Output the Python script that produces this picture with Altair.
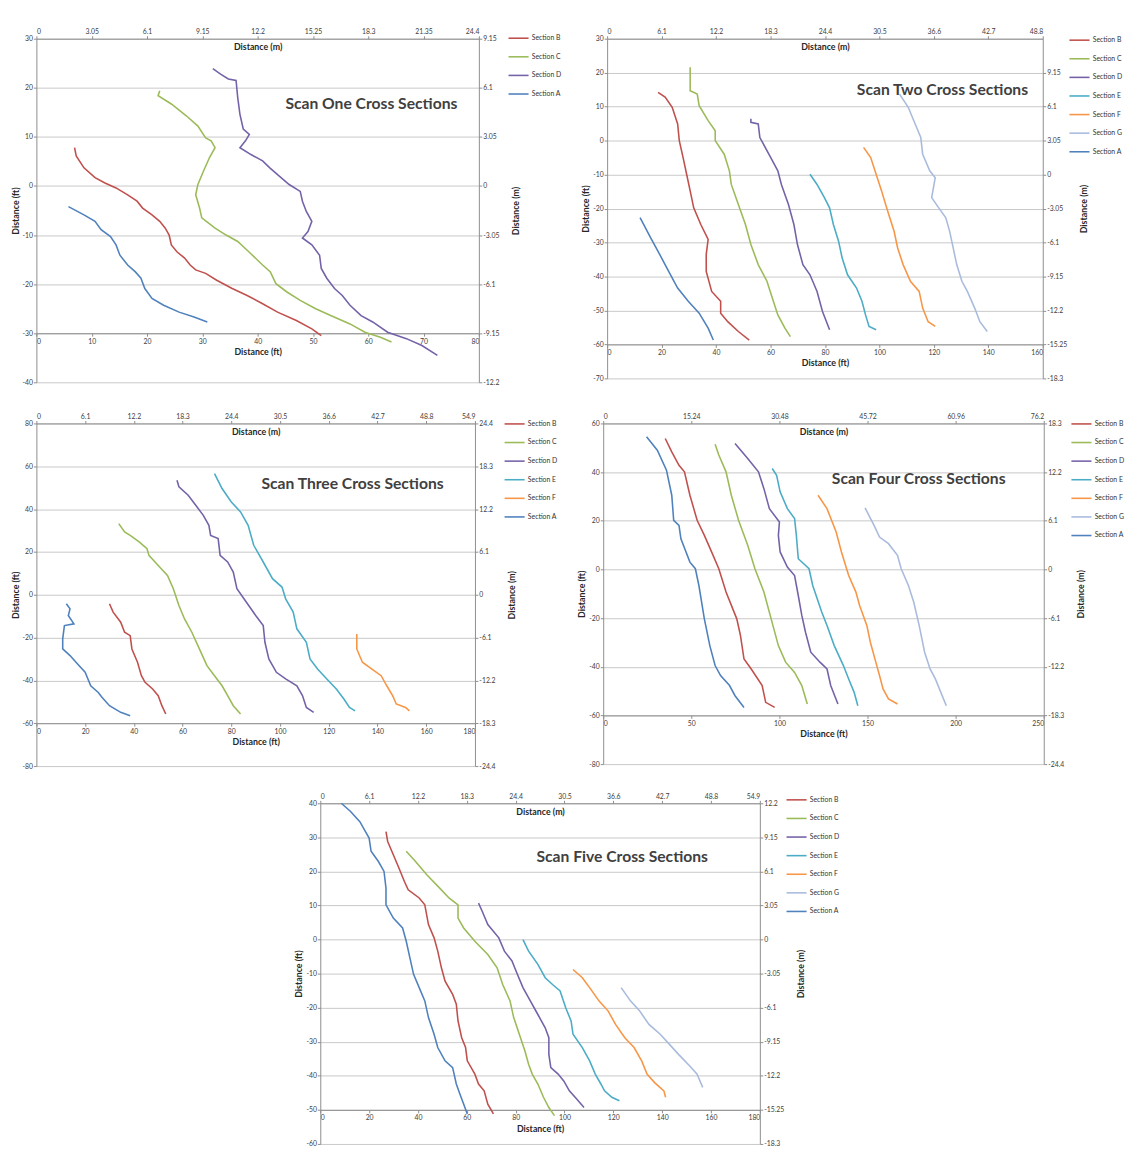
import altair as alt
import pandas as pd

FONT = "Lato"
COLORS = {"A": "#4F81BD", "B": "#C0504D", "C": "#9BBB59", "D": "#7462A8",
          "E": "#4BACC6", "F": "#F79646", "G": "#A9BBDD"}

# ---------------- Scan One ----------------
P1_B_X = [6.9, 7.2, 8.6, 10.6, 12.4, 14.4, 16.5, 18.2, 19.2, 20.9, 22.3, 23.3, 24.0, 24.4, 25.4, 26.8, 27.8, 28.8, 30.6, 32.6, 35.4, 38.1, 40.9, 43.6, 47.0, 49.8, 51.5]
P1_B_Y = [7.8, 6.1, 3.7, 1.7, 0.6, -0.4, -1.8, -3.1, -4.5, -5.9, -7.2, -8.6, -10.0, -12.0, -13.4, -14.7, -16.1, -17.1, -17.8, -19.2, -20.9, -22.3, -24.0, -25.7, -27.4, -29.1, -30.5]
P1_C_X = [22.3, 22.0, 24.4, 27.1, 29.2, 30.6, 31.6, 32.3, 31.3, 30.2, 29.2, 28.8, 29.5, 29.9, 32.3, 34.3, 36.4, 38.4, 40.9, 42.3, 43.3, 45.3, 47.7, 50.5, 53.2, 56.7, 59.4, 62.2, 64.2]
P1_C_Y = [19.4, 18.4, 16.7, 14.3, 12.2, 9.8, 9.2, 7.8, 5.8, 3.0, 0.3, -1.8, -4.5, -6.5, -8.6, -10.0, -11.3, -13.4, -16.1, -17.5, -19.9, -21.6, -23.3, -25.0, -26.4, -28.1, -29.8, -30.8, -31.8]
P1_D_X = [31.9, 33.3, 34.7, 36.1, 36.4, 36.8, 37.4, 38.5, 37.8, 36.8, 38.8, 40.9, 42.2, 43.6, 45.7, 47.7, 48.1, 48.8, 49.8, 49.1, 48.1, 49.8, 51.2, 51.5, 52.5, 53.9, 55.3, 56.7, 58.7, 60.8, 63.5, 66.9, 69.7, 72.5]
P1_D_Y = [23.9, 22.8, 21.8, 21.5, 18.0, 14.6, 11.6, 10.5, 9.2, 7.8, 6.4, 5.1, 3.7, 2.3, 0.3, -1.1, -3.1, -5.2, -7.2, -9.3, -10.6, -12.0, -14.1, -16.8, -18.8, -20.9, -22.3, -24.3, -26.4, -27.7, -29.8, -31.1, -32.5, -34.5]
P1_A_X = [5.8, 8.6, 10.6, 11.7, 13.4, 14.4, 15.1, 16.5, 17.9, 18.9, 19.6, 20.9, 23.0, 25.8, 28.5, 30.9]
P1_A_Y = [-4.2, -5.9, -7.2, -8.9, -10.3, -12.0, -14.1, -16.1, -17.5, -18.8, -20.9, -22.9, -24.3, -25.7, -26.7, -27.7]

# ---------------- Scan Two ----------------
P2_B_X = [18.7, 21.3, 23.9, 25.9, 26.5, 27.9, 29.2, 30.5, 31.8, 34.4, 37.1, 36.4, 36.4, 38.4, 41.7, 41.7, 44.3, 48.2, 52.2]
P2_B_Y = [14.2, 12.8, 9.8, 4.9, 0.0, -5.0, -9.9, -14.8, -19.8, -24.7, -29.1, -33.5, -38.5, -44.4, -47.3, -50.8, -53.3, -56.2, -58.7]
P2_C_X = [30.5, 30.5, 33.1, 33.8, 37.1, 39.7, 39.7, 43.0, 44.9, 45.6, 48.2, 50.8, 52.8, 55.5, 58.7, 60.7, 62.7, 65.3, 67.3]
P2_C_Y = [21.6, 14.7, 13.7, 10.3, 5.9, 2.9, 0.0, -4.0, -8.9, -12.9, -18.8, -24.7, -30.6, -36.5, -41.4, -46.4, -51.3, -55.2, -57.7]
P2_D_X = [52.8, 52.8, 55.5, 56.1, 59.4, 62.7, 64.0, 66.6, 68.6, 69.9, 71.9, 74.5, 77.1, 79.1, 81.7]
P2_D_Y = [6.4, 5.4, 4.9, 0.9, -4.0, -8.9, -12.9, -18.8, -24.7, -30.6, -36.5, -39.5, -44.4, -50.3, -55.7]
P2_E_X = [74.5, 77.1, 79.8, 81.7, 83.1, 85.0, 86.3, 88.3, 91.6, 93.6, 94.9, 96.2, 98.8]
P2_E_Y = [-9.9, -12.9, -16.8, -19.8, -24.7, -29.6, -34.5, -39.5, -43.4, -47.3, -51.3, -54.7, -55.7]
P2_F_X = [94.2, 96.8, 98.8, 100.8, 102.1, 103.4, 105.4, 106.7, 108.7, 111.4, 114.6, 115.9, 117.9, 120.5]
P2_F_Y = [-2.0, -5.0, -9.9, -14.8, -18.3, -21.7, -26.7, -31.6, -36.5, -41.4, -44.4, -49.3, -53.3, -54.7]
P2_G_X = [107.4, 110.6, 112.6, 115.2, 115.9, 118.5, 120.5, 119.2, 121.8, 124.4, 125.8, 127.1, 128.4, 130.3, 132.3, 135.0, 136.9, 139.6]
P2_G_Y = [13.7, 9.8, 5.9, 0.9, -4.0, -8.9, -10.9, -16.8, -19.8, -22.7, -26.7, -31.6, -36.5, -41.4, -44.4, -49.3, -53.3, -56.2]
P2_A_X = [12.1, 16.0, 19.3, 22.6, 25.9, 29.8, 33.8, 37.1, 39.0]
P2_A_Y = [-22.7, -28.6, -33.5, -38.5, -43.4, -47.3, -50.8, -55.2, -58.7]

# ---------------- Scan Three ----------------
P3_B_X = [30.0, 31.5, 34.6, 36.2, 38.5, 39.2, 41.5, 43.1, 44.6, 47.7, 50.0, 51.5, 53.1]
P3_B_Y = [-4.2, -8.1, -12.8, -17.5, -19.1, -25.3, -31.5, -37.8, -40.9, -44.0, -47.1, -51.8, -55.7]
P3_C_X = [33.8, 36.2, 38.5, 42.3, 45.4, 46.2, 50.0, 53.8, 56.2, 58.5, 60.8, 63.8, 66.9, 70.0, 73.1, 76.2, 78.5, 80.8, 83.8]
P3_C_Y = [33.2, 29.3, 27.7, 24.6, 21.5, 18.4, 13.7, 9.0, 2.8, -5.0, -11.3, -17.5, -25.3, -33.1, -37.8, -42.5, -47.1, -51.8, -55.7]
P3_D_X = [57.7, 58.5, 62.3, 65.4, 68.5, 70.8, 71.5, 74.6, 75.4, 78.5, 80.8, 82.3, 86.2, 90.0, 93.1, 93.8, 95.4, 98.5, 102.3, 106.9, 109.2, 110.8, 113.8]
P3_D_Y = [53.5, 50.4, 46.5, 41.8, 37.1, 32.4, 27.7, 26.2, 18.4, 15.3, 10.6, 2.8, -3.5, -9.7, -14.4, -22.2, -30.0, -36.2, -39.3, -42.5, -47.1, -52.6, -54.9]
P3_E_X = [73.1, 76.2, 80.0, 83.8, 86.9, 89.2, 93.1, 96.9, 100.8, 102.3, 105.4, 106.9, 110.8, 112.3, 115.4, 119.2, 123.1, 126.2, 128.5, 130.8]
P3_E_Y = [56.6, 49.6, 43.3, 38.7, 32.4, 23.1, 15.3, 7.5, 3.6, -1.9, -8.1, -15.9, -22.2, -30.0, -34.7, -39.3, -44.0, -48.7, -52.6, -54.2]
P3_F_X = [131.5, 131.5, 133.8, 137.7, 141.5, 143.8, 146.2, 147.7, 151.5, 153.1]
P3_F_Y = [-18.3, -25.3, -31.5, -34.7, -37.8, -42.5, -47.1, -51.0, -52.6, -54.2]
P3_A_X = [12.3, 13.8, 13.1, 15.4, 11.5, 10.8, 10.8, 13.8, 16.9, 20.0, 22.3, 25.4, 26.9, 30.0, 34.6, 38.5]
P3_A_Y = [-4.2, -6.6, -9.7, -13.6, -14.4, -20.6, -25.3, -28.4, -32.3, -36.2, -42.5, -45.6, -47.9, -51.8, -54.9, -56.5]

# ---------------- Scan Four ----------------
P4_B_X = [35.2, 38.9, 43.0, 46.1, 49.2, 53.3, 57.4, 61.5, 65.6, 69.7, 75.8, 77.9, 79.9, 84.0, 90.2, 92.2, 97.3]
P4_B_Y = [53.8, 48.3, 42.8, 40.1, 30.5, 20.2, 14.0, 7.2, 0.3, -9.3, -20.3, -27.2, -36.8, -40.9, -47.7, -54.6, -56.7]
P4_C_X = [63.5, 65.6, 69.7, 72.7, 76.8, 82.0, 86.1, 91.2, 95.3, 99.4, 103.5, 108.6, 112.7, 115.8]
P4_C_Y = [51.4, 47.0, 40.1, 30.5, 20.2, 9.9, 0.3, -9.3, -20.3, -31.3, -38.1, -42.3, -47.7, -55.3]
P4_D_X = [74.8, 82.0, 88.1, 91.2, 94.3, 100.0, 99.4, 100.4, 104.5, 108.6, 110.7, 112.7, 114.8, 117.8, 123.0, 127.0, 129.1, 133.2]
P4_D_Y = [51.8, 45.6, 40.1, 33.2, 25.0, 19.5, 14.0, 7.2, 1.0, -2.5, -10.7, -18.9, -25.8, -34.0, -38.1, -40.9, -47.7, -55.3]
P4_E_X = [95.9, 98.4, 100.4, 104.5, 108.6, 109.6, 110.7, 116.8, 118.9, 124.0, 127.0, 131.1, 136.3, 139.3, 142.4, 144.5]
P4_E_Y = [41.5, 38.7, 31.9, 25.0, 20.9, 14.0, 4.4, 0.3, -6.6, -17.5, -23.0, -31.3, -39.5, -45.0, -50.5, -56.0]
P4_F_X = [121.9, 127.0, 132.2, 135.2, 139.3, 143.4, 145.5, 149.6, 151.6, 154.7, 156.8, 158.8, 161.9, 167.0]
P4_F_Y = [30.5, 25.0, 15.4, 7.2, -2.5, -9.3, -14.8, -23.0, -29.9, -38.1, -43.6, -49.1, -53.2, -55.3]
P4_G_X = [148.6, 153.7, 156.8, 161.9, 167.0, 169.1, 173.2, 176.2, 179.3, 182.4, 185.5, 188.5, 191.6, 194.7]
P4_G_Y = [25.3, 18.1, 13.3, 10.6, 5.8, 0.3, -6.6, -13.4, -23.0, -34.0, -40.9, -45.0, -50.5, -56.0]
P4_A_X = [24.6, 30.7, 35.9, 38.9, 40.0, 43.0, 44.1, 49.2, 52.3, 54.3, 57.4, 60.5, 63.5, 66.6, 71.7, 74.8, 79.9]
P4_A_Y = [54.5, 49.0, 40.8, 30.5, 20.2, 18.1, 12.6, 3.0, 0.3, -6.6, -20.3, -31.3, -39.5, -43.6, -47.7, -51.9, -56.7]

# ---------------- Scan Five ----------------
P5_B_X = [26.9, 27.6, 29.9, 32.2, 34.4, 36.0, 40.5, 42.8, 44.3, 46.6, 48.1, 49.6, 51.1, 54.2, 55.7, 56.4, 57.9, 59.5, 60.2, 63.3, 64.8, 67.1, 68.6, 70.9]
P5_B_Y = [31.7, 28.8, 24.9, 21.0, 17.1, 14.6, 12.2, 10.2, 4.4, 0.5, -3.4, -8.3, -12.2, -16.1, -19.0, -23.9, -28.8, -31.7, -35.6, -39.5, -42.4, -44.4, -48.3, -51.2]
P5_C_X = [35.2, 39.0, 43.6, 48.9, 52.7, 56.4, 56.4, 58.7, 63.3, 68.6, 72.4, 74.7, 77.7, 79.2, 81.5, 83.8, 85.3, 86.8, 89.1, 91.4, 93.6, 95.9]
P5_C_Y = [25.9, 22.9, 19.0, 15.1, 12.2, 10.2, 6.3, 3.4, -0.5, -4.4, -8.3, -13.2, -18.0, -22.9, -27.8, -32.7, -36.6, -39.5, -42.4, -46.3, -49.3, -51.7]
P5_D_X = [64.8, 66.3, 68.6, 73.1, 75.4, 78.5, 80.7, 83.0, 86.0, 89.1, 92.1, 93.6, 93.6, 94.4, 97.4, 99.7, 102.0, 105.0, 108.0]
P5_D_Y = [10.7, 8.3, 4.4, 0.5, -3.4, -6.3, -10.2, -14.1, -18.0, -22.0, -25.9, -28.8, -33.7, -37.6, -39.5, -41.5, -44.4, -46.8, -49.3]
P5_E_X = [83.0, 85.3, 89.1, 92.1, 95.1, 98.2, 100.5, 102.7, 103.5, 107.3, 110.3, 112.6, 114.9, 116.4, 119.4, 122.5]
P5_E_Y = [0.0, -3.4, -7.3, -11.2, -13.2, -15.1, -20.0, -23.9, -27.8, -31.7, -35.6, -39.5, -42.4, -44.4, -46.3, -47.3]
P5_F_X = [103.5, 107.3, 110.3, 114.1, 117.9, 120.9, 124.7, 128.5, 131.6, 133.8, 136.9, 140.7, 141.4]
P5_F_Y = [-8.8, -11.2, -14.1, -18.0, -21.0, -24.9, -28.8, -31.7, -35.6, -39.5, -42.0, -44.4, -46.3]
P5_G_X = [123.2, 127.0, 130.8, 134.6, 139.2, 142.9, 146.7, 151.3, 154.3, 156.6]
P5_G_Y = [-14.1, -18.0, -21.0, -24.9, -27.8, -30.7, -33.7, -37.1, -39.5, -43.4]
P5_A_X = [8.6, 12.4, 16.2, 18.5, 20.0, 20.8, 23.8, 26.1, 26.9, 26.9, 29.9, 33.7, 35.2, 36.7, 38.2, 40.5, 42.8, 44.3, 46.6, 48.1, 51.1, 54.2, 55.7, 57.2, 58.7, 60.2]
P5_A_Y = [40.0, 37.6, 34.6, 31.7, 29.8, 25.9, 22.9, 20.0, 15.1, 10.2, 6.3, 3.4, -0.5, -5.4, -10.2, -14.1, -18.0, -22.9, -27.8, -31.7, -35.6, -37.6, -42.4, -45.4, -48.3, -51.2]

# ---------------- axes ticks ----------------
P1_XT = [0, 10, 20, 30, 40, 50, 60, 70, 80]
P1_YT = [-40, -30, -20, -10, 0, 10, 20, 30]
P1_TOP = [0, 3.05, 6.1, 9.15, 12.2, 15.25, 18.3, 21.35, 24.4]
P1_RIGHT = [-12.2, -9.15, -6.1, -3.05, 0, 3.05, 6.1, 9.15]

P2_XT = [0, 20, 40, 60, 80, 100, 120, 140, 160]
P2_YT = [-70, -60, -50, -40, -30, -20, -10, 0, 10, 20, 30]
P2_TOP = [0, 6.1, 12.2, 18.3, 24.4, 30.5, 36.6, 42.7, 48.8]
P2_RIGHT = [-18.3, -15.25, -12.2, -9.15, -6.1, -3.05, 0, 3.05, 6.1, 9.15]

P3_XT = [0, 20, 40, 60, 80, 100, 120, 140, 160, 180]
P3_YT = [-80, -60, -40, -20, 0, 20, 40, 60, 80]
P3_TOP = [0, 6.1, 12.2, 18.3, 24.4, 30.5, 36.6, 42.7, 48.8, 54.9]
P3_RIGHT = [-24.4, -18.3, -12.2, -6.1, 0, 6.1, 12.2, 18.3, 24.4]

P4_XT = [0, 50, 100, 150, 200, 250]
P4_YT = [-80, -60, -40, -20, 0, 20, 40, 60]
P4_TOP = [0, 15.24, 30.48, 45.72, 60.96, 76.2]
P4_RIGHT = [-24.4, -18.3, -12.2, -6.1, 0, 6.1, 12.2, 18.3]

P5_XT = [0, 20, 40, 60, 80, 100, 120, 140, 160, 180]
P5_YT = [-60, -50, -40, -30, -20, -10, 0, 10, 20, 30, 40]
P5_TOP = [0, 6.1, 12.2, 18.3, 24.4, 30.5, 36.6, 42.7, 48.8, 54.9]
P5_RIGHT = [-18.3, -15.25, -12.2, -9.15, -6.1, -3.05, 0, 3.05, 6.1, 9.15, 12.2]

LABEL_EXPR = "replace(format(datum.value, '.2~f'), '\u2212', '-')"


def panel(title, series, xdom, xt, ydom, yt, xcross, topdom, topt, rdom, rt,
          w, h, tx, ty, lx, ly):
    rows = []
    names = []
    for name, xs, ys in series:
        names.append("Section " + name)
        for i, (x, y) in enumerate(zip(xs, ys)):
            rows.append({"x": x, "y": y, "s": "Section " + name, "i": i})
    df = pd.DataFrame(rows)
    colors = [COLORS[n] for n, _, _ in series]
    off = -h * (xcross - ydom[0]) / (ydom[1] - ydom[0])

    lines = alt.Chart(df).mark_line(strokeWidth=1.6).encode(
        x=alt.X("x:Q", scale=alt.Scale(domain=xdom, nice=False, zero=False),
                axis=alt.Axis(orient="bottom", values=xt, offset=off, grid=False,
                              title="Distance (ft)", labelExpr=LABEL_EXPR,
                              titlePadding=4)),
        y=alt.Y("y:Q", scale=alt.Scale(domain=ydom, nice=False, zero=False),
                axis=alt.Axis(values=yt, grid=True, title="Distance (ft)",
                              labelExpr=LABEL_EXPR, titlePadding=2)),
        color=alt.Color("s:N", title=None,
                        scale=alt.Scale(domain=names, range=colors),
                        legend=alt.Legend(orient="none", legendX=w + lx, legendY=ly,
                                          symbolType="stroke", symbolStrokeWidth=1.6,
                                          symbolSize=420, labelFontSize=7,
                                          labelFont=FONT, labelColor="#333333",
                                          rowPadding=4, labelOffset=2)),
        order=alt.Order("i:Q"),
    )

    mdf = pd.DataFrame({"xm": topdom, "ym": rdom})
    meters = alt.Chart(mdf).mark_point(opacity=0, size=1).encode(
        x=alt.X("xm:Q", scale=alt.Scale(domain=topdom, nice=False, zero=False),
                axis=alt.Axis(orient="top", values=topt, grid=False,
                              title="Distance (m)", titleY=8, titleBaseline="middle",
                              labelExpr=LABEL_EXPR)),
        y=alt.Y("ym:Q", scale=alt.Scale(domain=rdom, nice=False, zero=False),
                axis=alt.Axis(orient="right", values=rt, grid=False,
                              title="Distance (m)", titleAngle=270,
                              labelExpr=LABEL_EXPR, titlePadding=22)),
    )

    ttl = alt.Chart(pd.DataFrame({"t": [title]})).mark_text(
        align="right", baseline="middle", fontSize=16, fontWeight="bold",
        font=FONT, color="#404040"
    ).encode(text="t:N", x=alt.value(tx), y=alt.value(ty))

    return alt.layer(lines, meters, ttl).resolve_scale(
        x="independent", y="independent").properties(width=w, height=h)


p1 = panel("Scan One Cross Sections",
           [("B", P1_B_X, P1_B_Y), ("C", P1_C_X, P1_C_Y), ("D", P1_D_X, P1_D_Y), ("A", P1_A_X, P1_A_Y)],
           [0, 80], P1_XT, [-40, 30], P1_YT, -30, [0, 24.4], P1_TOP, [-12.2, 9.15], P1_RIGHT,
           452, 351, 430, 67, 29, -12)
p2 = panel("Scan Two Cross Sections",
           [("B", P2_B_X, P2_B_Y), ("C", P2_C_X, P2_C_Y), ("D", P2_D_X, P2_D_Y), ("E", P2_E_X, P2_E_Y),
            ("F", P2_F_X, P2_F_Y), ("G", P2_G_X, P2_G_Y), ("A", P2_A_X, P2_A_Y)],
           [0, 160], P2_XT, [-70, 30], P2_YT, -60, [0, 48.8], P2_TOP, [-18.3, 12.2], P2_RIGHT,
           445, 347, 430, 53, 26, -10)
p3 = panel("Scan Three Cross Sections",
           [("B", P3_B_X, P3_B_Y), ("C", P3_C_X, P3_C_Y), ("D", P3_D_X, P3_D_Y), ("E", P3_E_X, P3_E_Y),
            ("F", P3_F_X, P3_F_Y), ("A", P3_A_X, P3_A_Y)],
           [0, 180], P3_XT, [-80, 80], P3_YT, -60, [0, 54.9], P3_TOP, [-24.4, 24.4], P3_RIGHT,
           448, 350, 416, 62, 29, -11)
p4 = panel("Scan Four Cross Sections",
           [("B", P4_B_X, P4_B_Y), ("C", P4_C_X, P4_C_Y), ("D", P4_D_X, P4_D_Y), ("E", P4_E_X, P4_E_Y),
            ("F", P4_F_X, P4_F_Y), ("G", P4_G_X, P4_G_Y), ("A", P4_A_X, P4_A_Y)],
           [0, 250], P4_XT, [-80, 60], P4_YT, -60, [0, 76.2], P4_TOP, [-24.4, 18.3], P4_RIGHT,
           450, 348, 411, 57, 27, -11)
p5 = panel("Scan Five Cross Sections",
           [("B", P5_B_X, P5_B_Y), ("C", P5_C_X, P5_C_Y), ("D", P5_D_X, P5_D_Y), ("E", P5_E_X, P5_E_Y),
            ("F", P5_F_X, P5_F_Y), ("G", P5_G_X, P5_G_Y), ("A", P5_A_X, P5_A_Y)],
           [0, 180], P5_XT, [-60, 40], P5_YT, -50, [0, 54.9], P5_TOP, [-18.3, 12.2], P5_RIGHT,
           449, 348, 396, 55, 26, -15)

spacer = alt.Chart(pd.DataFrame({"a": [0]})).mark_point(opacity=0, size=1).encode(
    x=alt.value(10), y=alt.value(5)).properties(width=247, height=10)

row1 = alt.hconcat(p1, p2, spacing=20).resolve_scale(color="independent")
row2 = alt.hconcat(p3, p4, spacing=20).resolve_scale(color="independent")
row3 = alt.hconcat(spacer, p5, spacing=17).resolve_scale(color="independent")

top_rows = alt.vconcat(row1, row2, spacing=28).resolve_scale(color="independent")

chart = alt.vconcat(top_rows, row3, spacing=20).resolve_scale(
    color="independent").properties(
    padding={"left": 3, "top": 7, "right": 0, "bottom": 0}
).configure_view(stroke=None).configure_axis(
    labelFont=FONT, titleFont=FONT, labelFontSize=7, titleFontSize=9,
    titleFontWeight="bold", labelColor="#404040", titleColor="#262626",
    domainColor="#8c8c8c", tickColor="#8c8c8c", gridColor="#c8c8c8",
    tickSize=3, labelPadding=1
).configure_legend(labelFont=FONT)

chart.save("out.html", embed_options={"renderer": "svg", "actions": False})
